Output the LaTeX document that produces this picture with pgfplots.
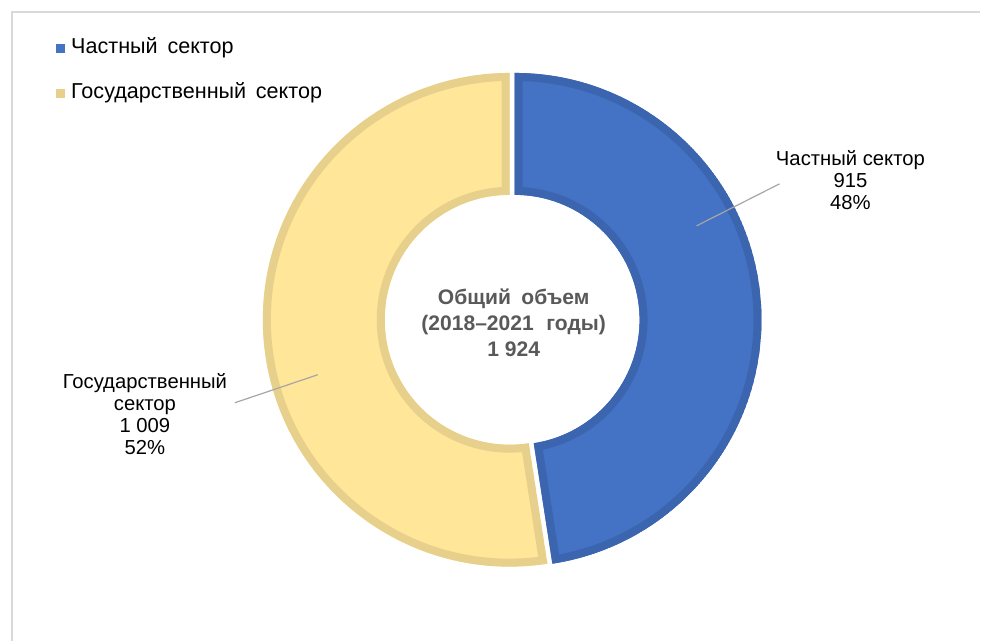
\documentclass[border=0pt]{standalone}
\usepackage{pgfplots}
\pgfplotsset{compat=1.18}
\usepackage{fontspec}
\setmainfont{Liberation Sans}

\definecolor{privfill}{HTML}{4472C4}
\definecolor{privedge}{HTML}{3C65AF}
\definecolor{govfill}{HTML}{FFE699}
\definecolor{govedge}{HTML}{E7D08C}
\definecolor{frameg}{HTML}{D9D9D9}
\definecolor{leader}{HTML}{A6A6A6}
\definecolor{centertxt}{HTML}{595959}

% data
\def\vPriv{915}
\def\vGov{1009}
\pgfmathsetmacro{\total}{\vPriv+\vGov}
\pgfmathsetmacro{\aEnd}{90-360*(\vPriv/\total)}
\pgfmathsetmacro{\aGovEnd}{\aEnd-360*(\vGov/\total)}

\def\rout{247}
\def\rin{125}

% #1 cx, #2 cy (pixels, y down), #3 start angle, #4 end angle, #5 fill, #6 edge
\newcommand{\donutslice}[6]{%
  \begin{scope}
    \clip (axis cs:{#1+\rout*cos(#3)},{#2-\rout*sin(#3)})
      arc[start angle=#3, end angle=#4, radius={\rout*0.75pt}]
      -- (axis cs:{#1+\rin*cos(#4)},{#2-\rin*sin(#4)})
      arc[start angle=#4, end angle=#3, radius={\rin*0.75pt}] -- cycle;
    \fill[#5] (axis cs:{#1+\rout*cos(#3)},{#2-\rout*sin(#3)})
      arc[start angle=#3, end angle=#4, radius={\rout*0.75pt}]
      -- (axis cs:{#1+\rin*cos(#4)},{#2-\rin*sin(#4)})
      arc[start angle=#4, end angle=#3, radius={\rin*0.75pt}] -- cycle;
    \draw[#6, line width=12pt] (axis cs:{#1+\rout*cos(#3)},{#2-\rout*sin(#3)})
      arc[start angle=#3, end angle=#4, radius={\rout*0.75pt}]
      -- (axis cs:{#1+\rin*cos(#4)},{#2-\rin*sin(#4)})
      arc[start angle=#4, end angle=#3, radius={\rin*0.75pt}] -- cycle;
  \end{scope}}

\begin{document}
\begin{tikzpicture}
\begin{axis}[
    x=0.75pt, y=0.75pt,
    y dir=reverse,
    xmin=0, xmax=981, ymin=0, ymax=641,
    hide axis,
    clip=false,
]
\path (axis cs:0,0) rectangle (axis cs:981,641);
\draw[frameg, line width=1pt] (axis cs:12,641) -- (axis cs:12,12) -- (axis cs:981,12);

\donutslice{515}{320}{90}{\aEnd}{privfill}{privedge}
\donutslice{510}{320}{\aEnd}{\aGovEnd}{govfill}{govedge}

% legend
\fill[privfill] (axis cs:56,44) rectangle (axis cs:65,53);
\fill[govedge] (axis cs:56,89) rectangle (axis cs:65,98);
\node[anchor=west, font=\fontsize{16.2}{19}\selectfont, inner sep=0pt] at (axis cs:71,48) {Частный\hspace{0.45em}сектор};
\node[anchor=west, font=\fontsize{16.2}{19}\selectfont, inner sep=0pt] at (axis cs:71,93) {Государственный\hspace{0.45em}сектор};

% leader lines
\draw[leader, line width=0.9pt] (axis cs:697,226) -- (axis cs:780,184);
\draw[leader, line width=0.9pt] (axis cs:235,403) -- (axis cs:318,375);

% data labels
\node[align=center, font=\fontsize{15.2}{16.5}\selectfont] at (axis cs:851,180) {Частный сектор\\915\\48\%};
\node[align=center, font=\fontsize{15.2}{16.5}\selectfont] at (axis cs:145,414) {Государственный\\сектор\\1 009\\52\%};

% centre text
\node[align=center, text=centertxt, font=\bfseries\fontsize{15.8}{19.5}\selectfont] at (axis cs:514,323) {Общий\hspace{0.5em}объем\\(2018–2021\hspace{0.6em}годы)\\1 924};
\end{axis}
\end{tikzpicture}
\end{document}
